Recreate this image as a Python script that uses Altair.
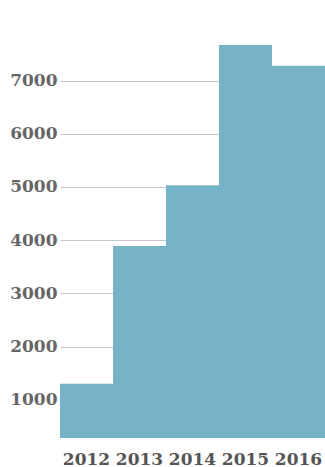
import altair as alt
import pandas as pd

years = ["2012", "2013", "2014", "2015", "2016"]
values = [1300, 3890, 5030, 7670, 7280]
y_ticks = [1000, 2000, 3000, 4000, 5000, 6000, 7000]

df = pd.DataFrame({"year": years, "value": values})

chart = alt.Chart(df).mark_bar(color="#77b3c7", clip=True).encode(
    x=alt.X("year:N", sort=years, title=None,
            scale=alt.Scale(paddingInner=0, paddingOuter=0),
            axis=alt.Axis(labelAngle=0, domain=False, ticks=False, labelPadding=13,
                          labelFont="DejaVu Serif", labelFontSize=17, labelFontWeight="bold",
                          labelColor="#555555")),
    y=alt.Y("value:Q", title=None,
            scale=alt.Scale(domain=[280, 7950], nice=False, zero=False),
            axis=alt.Axis(values=y_ticks, format="d", domain=False, ticks=False, labelPadding=3,
                          grid=True, gridColor="#c8c8c8", gridWidth=1,
                          labelFont="DejaVu Serif", labelFontSize=17, labelFontWeight="bold",
                          labelColor="#666666")),
).properties(
    width=265, height=408,
    autosize=alt.AutoSizeParams(type="none"),
    padding={"left": 60, "top": 30, "right": 0, "bottom": 29},
).configure_view(stroke=None)

chart.save("out.html", embed_options={"renderer": "svg", "actions": False})
